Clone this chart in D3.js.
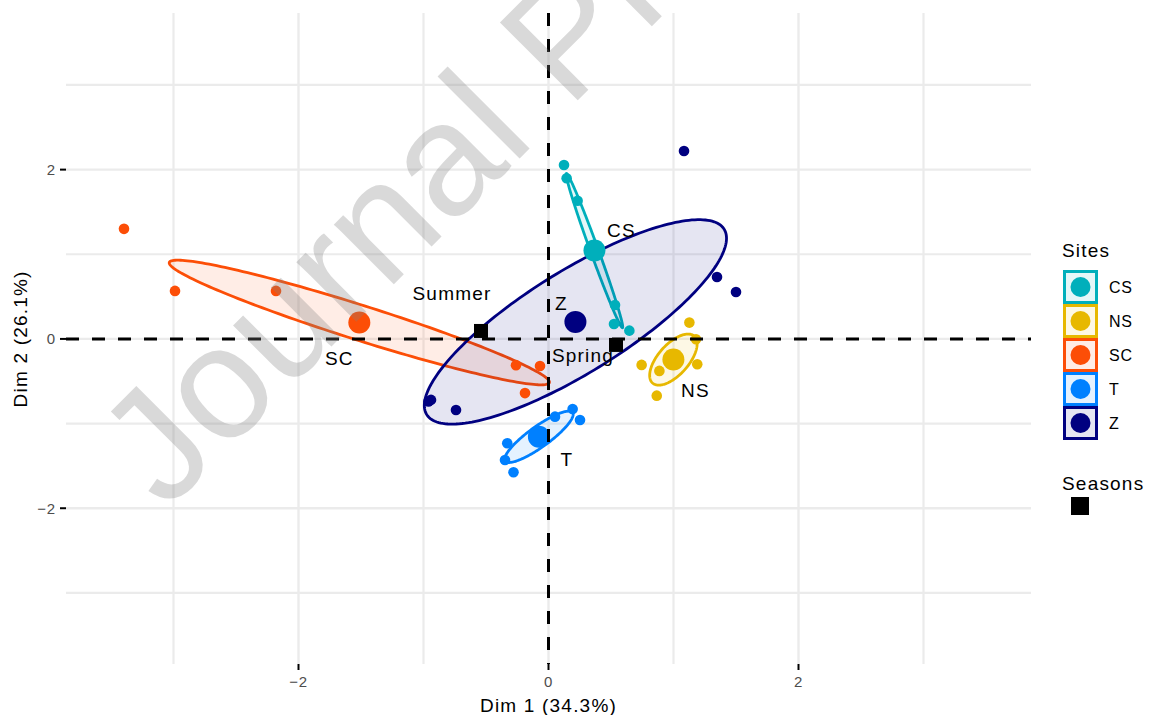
<!DOCTYPE html>
<html><head><meta charset="utf-8">
<script src="https://cdn.jsdelivr.net/npm/d3@7"></script>
<style>body{margin:0;background:#fff} text{font-family:"Liberation Sans",Arial,sans-serif}</style>
</head><body><svg id="c" width="1150" height="715"></svg>
<script>
// ---------- data ----------
const sites = ["CS","NS","SC","T","Z"];
const siteColors = ["#00AFBB","#E7B800","#FC4E07","#0080FF","#000080"];
const pointsCS = [[0.124,2.055],[0.145,1.898],[0.233,1.633],[0.532,0.40],[0.524,0.177],[0.647,0.098]];
const pointsNS = [[1.127,0.193],[1.18,-0.003],[0.745,-0.307],[0.887,-0.378],[1.19,-0.30],[0.866,-0.67]];
const pointsSC = [[-3.396,1.30],[-2.988,0.567],[-2.18,0.567],[-0.26,-0.31],[-0.068,-0.32],[-0.188,-0.64]];
const pointsT  = [[0.193,-0.827],[0.052,-0.918],[0.252,-0.957],[-0.33,-1.232],[-0.348,-1.43],[-0.28,-1.575]];
const pointsZ  = [[1.084,2.22],[1.348,0.732],[1.50,0.555],[-0.94,-0.72],[-0.96,-0.74],[-0.74,-0.84]];
const seasons = ["Summer","Spring"];
const seasonDim1 = [-0.54, 0.54];
const seasonDim2 = [0.094, -0.071];
const majorTicks = [-2, 0, 2];
const minorTicks = [-3, -1, 1, 3];
const xTitle = "Dim 1 (34.3%)";
const yTitle = "Dim 2 (26.1%)";
const legendTitleSites = "Sites";
const legendTitleSeasons = "Seasons";
const watermark = "Journal Pre-proof";
const confLevel = 0.95;

// ---------- layout ----------
const siteLabelOffsets = {CS:[27,-20], NS:[22,31], SC:[-20,36], T:[28,22], Z:[-14,-19]};
const seasonLabelOffsets = {Summer:[-29,-38], Spring:[-33,10]};
const groups = {CS:pointsCS, NS:pointsNS, SC:pointsSC, T:pointsT, Z:pointsZ};

const svg = d3.select("#c");
const x = d3.scaleLinear([-3.86, 3.86], [66, 1031]);
const y = d3.scaleLinear([-3.84, 3.85], [664, 13]);
const color = d3.scaleOrdinal(sites, siteColors);

// grid
const grid = svg.append("g");
const allTicks = majorTicks.concat(minorTicks);
grid.selectAll(".gx").data(allTicks).join("line")
  .attr("x1", d => x(d)).attr("x2", d => x(d)).attr("y1", y.range()[0]).attr("y2", y.range()[1])
  .attr("stroke", "#EBEBEB").attr("stroke-width", d => majorTicks.includes(d) ? 2.4 : 2.2);
grid.selectAll(".gy").data(allTicks).join("line")
  .attr("y1", d => y(d)).attr("y2", d => y(d)).attr("x1", x.range()[0]).attr("x2", x.range()[1])
  .attr("stroke", "#EBEBEB").attr("stroke-width", d => majorTicks.includes(d) ? 2.4 : 2.2);

// ellipses (confidence ellipses around group means)
const k = Math.sqrt(-2 * Math.log(1 - confLevel));
function ellipsePts(pts) {
  const n = pts.length;
  const mx = d3.mean(pts, p => p[0]), my = d3.mean(pts, p => p[1]);
  let sxx = 0, syy = 0, sxy = 0;
  pts.forEach(p => { sxx += (p[0]-mx)**2; syy += (p[1]-my)**2; sxy += (p[0]-mx)*(p[1]-my); });
  sxx /= (n-1); syy /= (n-1); sxy /= (n-1);
  sxx /= n; syy /= n; sxy /= n;
  const a = Math.sqrt(sxx), b = sxy / a, dd = Math.sqrt(Math.max(syy - b*b, 1e-9));
  return d3.range(0, 200).map(i => {
    const t = i / 200 * 2 * Math.PI;
    return [mx + k * a * Math.cos(t), my + k * (b * Math.cos(t) + dd * Math.sin(t))];
  });
}
const line = d3.line().x(d => x(d[0])).y(d => y(d[1])).curve(d3.curveLinearClosed);
const eg = svg.append("g");
sites.forEach(s => {
  eg.append("path").attr("d", line(ellipsePts(groups[s])))
    .attr("fill", color(s)).attr("fill-opacity", 0.1)
    .attr("stroke", color(s)).attr("stroke-width", 2.8);
});

// individual points
const pg = svg.append("g");
sites.forEach(s => {
  pg.selectAll(null).data(groups[s]).join("circle")
    .attr("cx", d => x(d[0])).attr("cy", d => y(d[1])).attr("r", 5.3).attr("fill", color(s));
});
// mean points
const means = sites.map(s => ({s, mx: d3.mean(groups[s], p => p[0]), my: d3.mean(groups[s], p => p[1])}));
pg.selectAll(".m").data(means).join("circle")
  .attr("cx", d => x(d.mx)).attr("cy", d => y(d.my)).attr("r", 11).attr("fill", d => color(d.s));

// dashed reference lines
svg.append("line").attr("x1", x.range()[0]).attr("x2", x.range()[1]).attr("y1", y(0)).attr("y2", y(0))
  .attr("stroke", "#000").attr("stroke-width", 3).attr("stroke-dasharray", "13,13");
svg.append("line").attr("x1", x(0)).attr("x2", x(0)).attr("y1", y.range()[1]).attr("y2", y.range()[0])
  .attr("stroke", "#000").attr("stroke-width", 3).attr("stroke-dasharray", "13,13");

// season points
const seasonData = seasons.map((s, i) => ({s, x: seasonDim1[i], y: seasonDim2[i]}));
svg.selectAll(".sq").data(seasonData).join("rect")
  .attr("x", d => x(d.x) - 7).attr("y", d => y(d.y) - 7).attr("width", 14).attr("height", 14).attr("fill", "#000");

// labels
const lg = svg.append("g").attr("font-size", 19).attr("letter-spacing", 1.2).attr("text-anchor", "middle");
lg.selectAll(".sl").data(means).join("text")
  .attr("x", d => x(d.mx) + siteLabelOffsets[d.s][0]).attr("y", d => y(d.my) + siteLabelOffsets[d.s][1])
  .attr("dy", "0.36em").text(d => d.s);
lg.selectAll(".ssl").data(seasonData).join("text")
  .attr("x", d => x(d.x) + seasonLabelOffsets[d.s][0]).attr("y", d => y(d.y) + seasonLabelOffsets[d.s][1])
  .attr("dy", "0.36em").text(d => d.s);

// axes ticks & labels
const ax = svg.append("g");
ax.selectAll(".xt").data(majorTicks).join("line")
  .attr("x1", d => x(d)).attr("x2", d => x(d)).attr("y1", 664).attr("y2", 670)
  .attr("stroke", "#000").attr("stroke-width", 2);
ax.selectAll(".yt").data(majorTicks).join("line")
  .attr("y1", d => y(d)).attr("y2", d => y(d)).attr("x1", 60).attr("x2", 66)
  .attr("stroke", "#000").attr("stroke-width", 2);
const fmt = d => d < 0 ? "\u2212" + Math.abs(d) : String(d);
ax.selectAll(".xl").data(majorTicks).join("text")
  .attr("x", d => x(d)).attr("y", 687).attr("text-anchor", "middle")
  .attr("font-size", 15).attr("letter-spacing", 0.8).attr("fill", "#4D4D4D").text(fmt);
ax.selectAll(".yl").data(majorTicks).join("text")
  .attr("x", 56).attr("y", d => y(d)).attr("dy", "0.36em").attr("text-anchor", "end")
  .attr("font-size", 15).attr("letter-spacing", 0.8).attr("fill", "#4D4D4D").text(fmt);
ax.append("text").attr("x", x(0)).attr("y", 712).attr("text-anchor", "middle")
  .attr("font-size", 19).attr("letter-spacing", 1.2).text(xTitle);
ax.append("text").attr("transform", `translate(27,${y(0)}) rotate(-90)`).attr("text-anchor", "middle")
  .attr("font-size", 19).attr("letter-spacing", 1.2).text(yTitle);

// legend
const leg = svg.append("g");
leg.append("text").attr("x", 1062).attr("y", 257).attr("font-size", 19).attr("letter-spacing", 1.2).text(legendTitleSites);
const keys = leg.selectAll(".k").data(sites).join("g").attr("transform", (d, i) => `translate(1063,${270 + 34 * i})`);
keys.append("rect").attr("x", 1.5).attr("y", 1.5).attr("width", 32).attr("height", 31)
  .attr("fill", d => color(d)).attr("fill-opacity", 0.1).attr("stroke", d => color(d)).attr("stroke-width", 3);
keys.append("circle").attr("cx", 17.5).attr("cy", 17).attr("r", 10).attr("fill", d => color(d));
keys.append("text").attr("x", 46).attr("y", 17).attr("dy", "0.36em").attr("font-size", 16).attr("letter-spacing", 0.8).text(d => d);
leg.append("text").attr("x", 1062).attr("y", 490).attr("font-size", 19).attr("letter-spacing", 1.2).text(legendTitleSeasons);
leg.append("rect").attr("x", 1071).attr("y", 497).attr("width", 18).attr("height", 18).attr("fill", "#000");

// watermark
svg.append("text").attr("transform", "translate(166,512) rotate(-45)")
  .attr("font-size", 160).attr("fill", "#808080").attr("fill-opacity", 0.3).text(watermark);
</script></body></html>
